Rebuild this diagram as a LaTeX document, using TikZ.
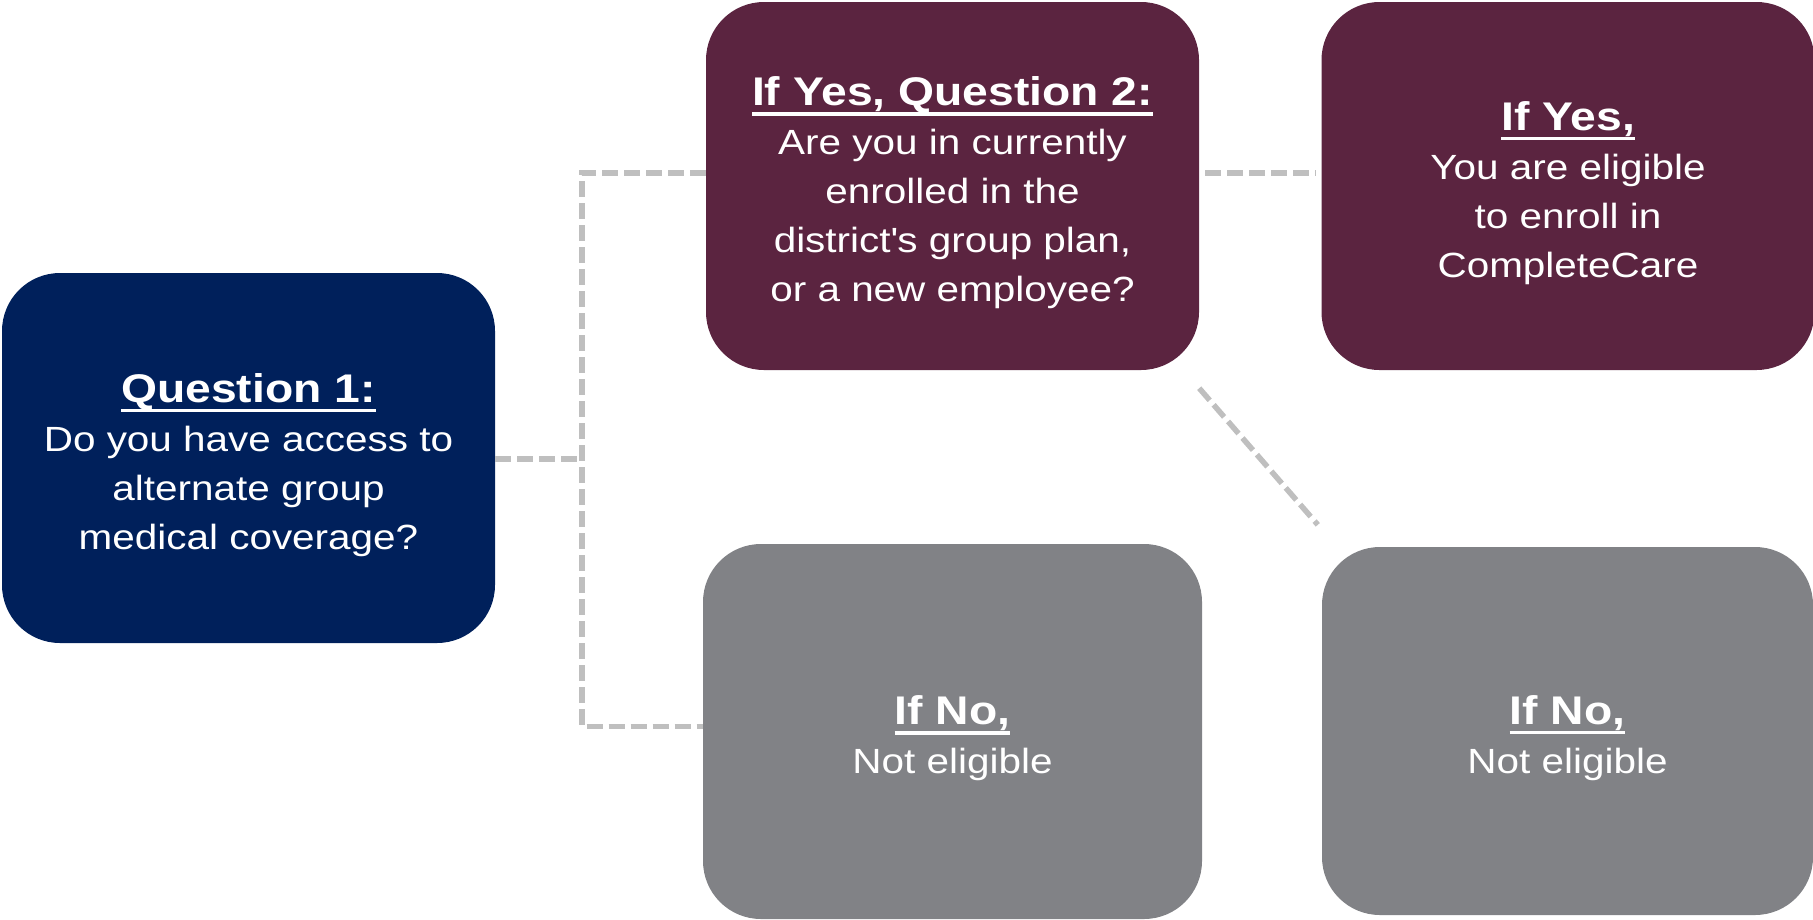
\documentclass[tikz,border=0pt]{standalone}
\usepackage{fontspec}
\setmainfont{Liberation Sans}[FakeStretch=1.156]
\definecolor{navy}{RGB}{0,32,91}
\definecolor{maroon}{RGB}{91,36,64}
\definecolor{slate}{RGB}{129,130,134}
\definecolor{dashgrey}{RGB}{191,191,191}
\newcommand{\headline}[1]{{\fontsize{40}{49}\selectfont\bfseries\setbox0=\hbox{#1}\rule{0pt}{43pt}\rlap{\rule[-10pt]{\wd0}{3.5pt}}\box0}}
\begin{document}
\begin{tikzpicture}[x=1pt, y=-1pt,
		box/.style={rounded corners=58pt, minimum width=493pt, minimum height=370pt, inner sep=0pt,
			align=center, text=white, font=\fontsize{35}{49}\selectfont},
		link/.style={draw=dashgrey, line width=5.5pt, dash pattern=on 16pt off 6pt}]
		\useasboundingbox (0, 0) rectangle (1813, 919);
		\node[box, fill=navy] (q1) at (248.5, 458)
			{\headline{Question 1:}\\Do you have access to\\alternate group\\medical coverage?};
		\node[box, fill=maroon, minimum height=368pt] (q2) at (952.5, 186)
			{\headline{If Yes, Question 2:}\\Are you in currently\\enrolled in the\\district\textquotesingle s group plan,\\or a new employee?};
		\node[box, fill=maroon, minimum height=368pt] (yes) at (1568, 186)
			{\headline{If Yes,}\\You are eligible\\to enroll in\\CompleteCare};
		\node[box, fill=slate, minimum width=499pt, minimum height=375pt] (no1) at (952.5, 731.5)
			{\headline{If No,}\\Not eligible};
		\node[box, fill=slate, minimum width=491pt, minimum height=368pt] (no2) at (1567.5, 731)
			{\headline{If No,}\\Not eligible};
		\coordinate (fork) at (582, 459);
		\draw[link] (q1.east |- fork) -- (fork);
		\draw[link] ([yshift=13pt]q2.west) -| (fork) |- ([yshift=5pt]no1.west);
		\draw[link, shorten <=6pt, shorten >=5pt] ([yshift=13pt]q2.east) -- ([yshift=13pt]yes.west);
		\draw[link] ([yshift=-18pt]q2.south east) -- ([xshift=-4pt, yshift=22pt]no2.north west);
		\end{tikzpicture}
\end{document}
